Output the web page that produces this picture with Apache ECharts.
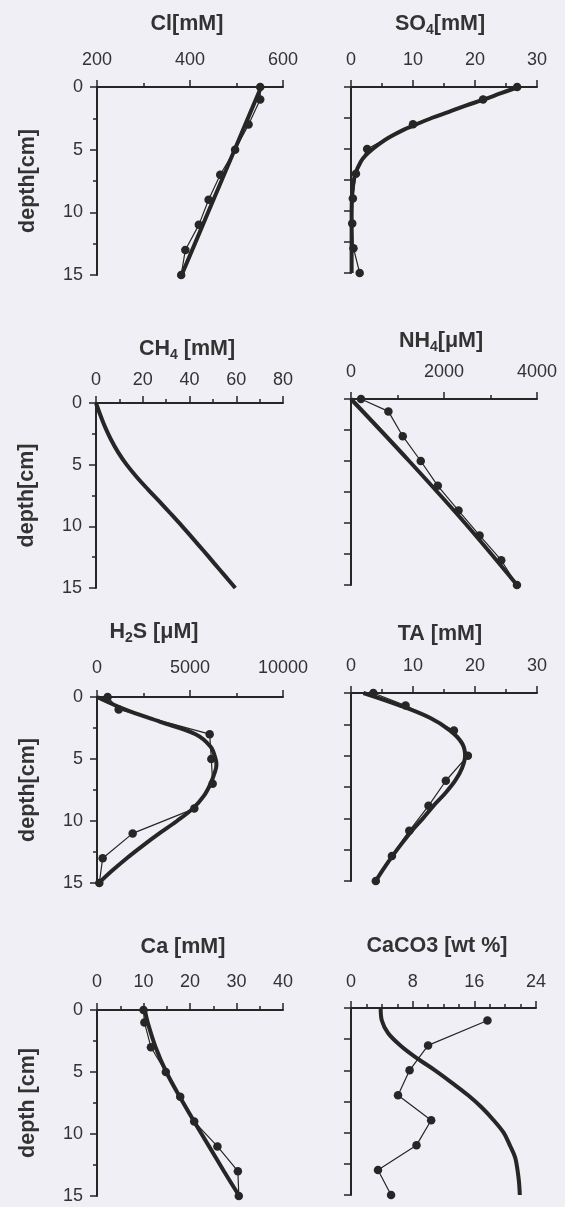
<!DOCTYPE html>
<html><head><meta charset="utf-8">
<script src="https://cdn.jsdelivr.net/npm/echarts@6/dist/echarts.min.js"></script>
<style>html,body{margin:0;padding:0;background:#efeff5;}#c{width:565px;height:1207px;}</style>
</head><body><div id="c"></div>
<script>
// ---------- data ----------
const obsDepths = [0, 1, 3, 5, 7, 9, 11, 13, 15];
const caco3Depths = [1, 3, 5, 7, 9, 11, 13, 15];
const depthTicks = [0, 5, 10, 15];
const depthTicksRight = [0, 2.5, 5, 7.5, 10, 12.5, 15];

const clTicks = [200, 400, 600];
const clObs = [551, 551, 526, 497, 465, 440, 419, 390, 381];
const clModelDepths = [0, 5, 10, 15];
const clModel = [553, 496, 439, 382];

const so4Ticks = [0, 10, 20, 30];
const so4Obs = [26.8, 21.3, 10, 2.6, 0.8, 0.3, 0.2, 0.4, 1.4];
const so4ModelDepths = [0, 0.5, 1, 1.5, 2, 2.5, 3, 3.5, 4, 4.5, 5, 5.5, 6, 7, 8, 9, 10, 12, 15];
const so4Model = [27, 24.2, 21.5, 18.5, 15.8, 13.0, 10.6, 8.3, 6.4, 4.8, 3.5, 2.4, 1.6, 0.7, 0.3, 0.15, 0.1, 0.1, 0.1];

const ch4Ticks = [0, 20, 40, 60, 80];
const ch4ModelDepths = [0, 1, 2, 3, 4, 5, 6, 7, 8, 9, 10, 11, 12, 13, 14, 15];
const ch4Model = [0, 1.9, 4.0, 6.5, 9.5, 13.1, 17.4, 22.2, 27.2, 32.1, 36.9, 41.5, 46.1, 50.6, 55.1, 59.6];

const nh4Ticks = [0, 2000, 4000];
const nh4Obs = [215, 804, 1113, 1500, 1867, 2312, 2765, 3231, 3569];
const nh4ModelDepths = [0, 5, 10, 15];
const nh4Model = [0, 1250, 2450, 3570];

const h2sTicks = [0, 5000, 10000];
const h2sObs = [573, 1165, 6057, 6147, 6219, 5233, 1918, 305, 125];
const h2sModelDepths = [0, 1, 2, 3, 4, 5, 5.5, 6, 7, 8, 9, 10, 11, 12, 13, 14, 15];
const h2sModel = [0, 1500, 3400, 5300, 6100, 6380, 6420, 6350, 6100, 5735, 5150, 4300, 3350, 2450, 1600, 820, 100];

const taTicks = [0, 10, 20, 30];
const taObs = [3.6, 8.8, 16.6, 18.85, 15.3, 12.5, 9.4, 6.6, 4.0];
const taModelDepths = [0, 1, 2, 3, 4, 5, 6, 7, 8, 9, 10, 11, 12, 13, 14, 15];
const taModel = [2.0, 7.9, 12.8, 16.0, 17.9, 18.4, 17.9, 16.8, 15.2, 13.3, 11.6, 9.8, 8.2, 6.7, 5.3, 4.0];

const caTicks = [0, 10, 20, 30, 40];
const caObs = [10.0, 10.2, 11.6, 14.8, 17.9, 20.9, 25.9, 30.3, 30.5];
const caModelDepths = [0, 1, 3, 5, 7, 9, 11, 13, 15];
const caModel = [10.3, 10.9, 12.6, 14.9, 17.8, 20.9, 24.1, 27.3, 30.6];

const caco3Ticks = [0, 8, 16, 24];
const caco3Obs = [17.7, 10.0, 7.6, 6.1, 10.4, 8.5, 3.5, 5.2];
const caco3ModelDepths = [0, 1, 2, 3, 4, 5, 6, 7, 8, 9, 10, 11, 12, 13, 14, 15];
const caco3Model = [3.85, 4.0, 4.8, 6.4, 8.5, 10.9, 13.1, 15.2, 17.0, 18.5, 19.8, 20.6, 21.3, 21.6, 21.8, 21.9];

// ---------- layout / style ----------
const FONT = '"Liberation Sans", Arial, sans-serif';
const AX = '#262626', TXT = '#333333', LINE = '#262626';

const panels = [
  {title:'{b|Cl[mM]}', tx:187, ty:24, g:[97,87,186,188], ticks:clTicks, minor:2, lm:18, left:true, yName:'depth[cm]',
   obs:clObs, obsD:obsDepths, model:clModel, modelD:clModelDepths},
  {title:'{b|SO}{s|4}{b|[mM]}', tx:440, ty:24, g:[351,87,186,186], ticks:so4Ticks, minor:2, lm:18, left:false,
   obs:so4Obs, obsD:obsDepths, model:so4Model, modelD:so4ModelDepths},
  {title:'{b|CH}{s|4}{b| [mM]}', tx:187, ty:349, g:[96,403,187,185], ticks:ch4Ticks, minor:2, lm:14, left:true, yName:'depth[cm]',
   obs:null, model:ch4Model, modelD:ch4ModelDepths},
  {title:'{b|NH}{s|4}{b|[μM]}', tx:441, ty:341, g:[351,399,186,186], ticks:nh4Ticks, minor:2, lm:18, left:false,
   obs:nh4Obs, obsD:obsDepths, model:nh4Model, modelD:nh4ModelDepths},
  {title:'{b|H}{s|2}{b|S [μM]}', tx:154, ty:632, g:[97,697,186,186], ticks:h2sTicks, minor:2, lm:20, left:true, yName:'depth[cm]',
   obs:h2sObs, obsD:obsDepths, model:h2sModel, modelD:h2sModelDepths},
  {title:'{b|TA [mM]}', tx:440, ty:634, g:[351,693,186,188], ticks:taTicks, minor:2, lm:18, left:false,
   obs:taObs, obsD:obsDepths, model:taModel, modelD:taModelDepths},
  {title:'{b|Ca [mM]}', tx:183, ty:947, g:[97,1010,186,186], ticks:caTicks, minor:2, lm:19, left:true, yName:'depth [cm]',
   obs:caObs, obsD:obsDepths, model:caModel, modelD:caModelDepths},
  {title:'{b|CaCO3 [wt %]}', tx:437, ty:946, g:[351,1008,185,187], ticks:caco3Ticks, minor:4, lm:17, left:false,
   obs:caco3Obs, obsD:caco3Depths, model:caco3Model, modelD:caco3ModelDepths}
];

const option = {animation:false, backgroundColor:'#efeff5', grid:[], xAxis:[], yAxis:[], series:[], graphic:[]};
const richT = {
  b:{fontFamily:FONT, fontWeight:'bold', fontSize:21.5, lineHeight:26, fill:TXT},
  s:{fontFamily:FONT, fontWeight:'bold', fontSize:14, verticalAlign:'bottom', fill:TXT}
};

panels.forEach((p, i) => {
  option.grid.push({left:p.g[0], top:p.g[1], width:p.g[2], height:p.g[3]});
  option.xAxis.push({
    type:'value', gridIndex:i, position:'top',
    min:p.ticks[0], max:p.ticks[p.ticks.length-1], interval:p.ticks[1]-p.ticks[0],
    axisLine:{show:true, onZero:false, lineStyle:{color:AX, width:2}},
    axisTick:{show:true, inside:false, length:7, lineStyle:{color:AX, width:1.5}},
    minorTick:{show:true, splitNumber:p.minor, length:4, lineStyle:{color:AX, width:1.5}},
    splitLine:{show:false}, minorSplitLine:{show:false},
    axisLabel:{margin:p.lm, fontSize:18, color:TXT, fontFamily:FONT, formatter:v => String(v)}
  });
  option.yAxis.push({
    type:'value', gridIndex:i, inverse:true, min:depthTicks[0], max:depthTicks[depthTicks.length-1],
    interval: p.left ? depthTicks[1]-depthTicks[0] : depthTicksRight[1]-depthTicksRight[0],
    axisLine:{show:true, onZero:false, lineStyle:{color:AX, width:2}},
    axisTick:{show:true, inside:false, length:7, lineStyle:{color:AX, width:1.5}},
    minorTick:{show:p.left, splitNumber:2, length:4, lineStyle:{color:AX, width:1.5}},
    splitLine:{show:false}, minorSplitLine:{show:false},
    axisLabel:{show:p.left, margin:14, fontSize:18, color:TXT, fontFamily:FONT, formatter:v => String(v)},
    name: p.left ? p.yName : '', nameLocation:'middle', nameGap:58,
    nameTextStyle:{fontWeight:'bold', fontSize:21.5, fontFamily:FONT, color:TXT}
  });
  option.series.push({
    type:'line', xAxisIndex:i, yAxisIndex:i, symbol:'none', smooth:0.35, clip:false, z:2,
    lineStyle:{width:4, color:LINE},
    data:p.model.map((v, k) => [v, p.modelD[k]])
  });
  if (p.obs) {
    option.series.push({
      type:'line', xAxisIndex:i, yAxisIndex:i, symbol:'circle', symbolSize:8.5, clip:false, z:3,
      itemStyle:{color:LINE}, lineStyle:{width:1.2, color:LINE},
      data:p.obs.map((v, k) => [v, p.obsD[k]])
    });
  }
  option.graphic.push({
    type:'text', x:p.tx, y:p.ty, z:10,
    style:{text:p.title, rich:richT, align:'center', verticalAlign:'middle'}
  });
});

const chart = echarts.init(document.getElementById('c'), null, {renderer:'canvas'});
chart.setOption(option);
</script>
</body></html>
